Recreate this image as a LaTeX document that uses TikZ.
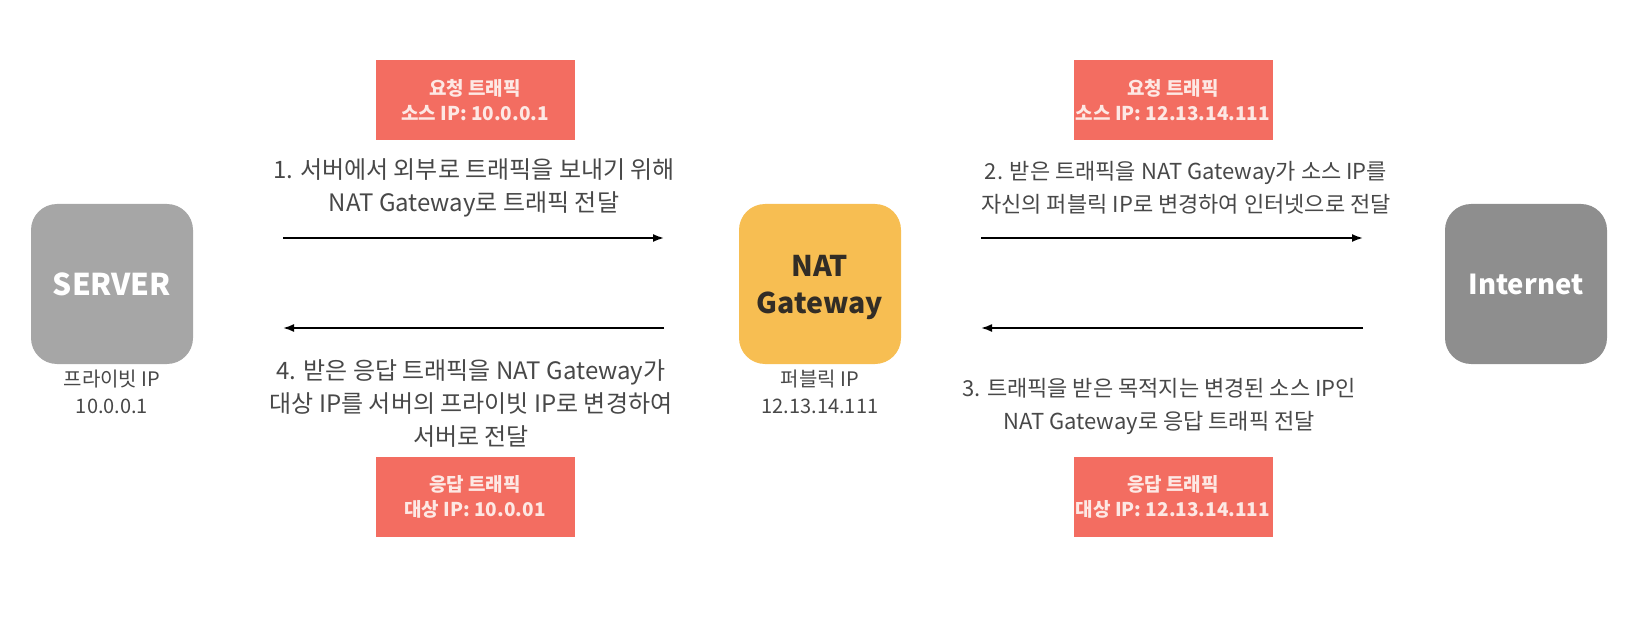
\documentclass[tikz,border=0pt]{standalone}
\usepackage{fontspec}
\setmainfont{Noto Sans CJK KR}
\usetikzlibrary{arrows.meta}
\definecolor{redbox}{RGB}{243,109,97}
\definecolor{redtext}{RGB}{253,232,228}
\definecolor{natyellow}{RGB}{247,190,82}
\definecolor{servergray}{RGB}{166,166,166}
\definecolor{netgray}{RGB}{142,142,142}
\definecolor{desc}{RGB}{72,72,72}
\definecolor{nattext}{RGB}{50,45,38}
\tikzset{
  bigbox/.style={draw=none, rounded corners=26pt, minimum width=162pt, minimum height=160pt, inner sep=0pt, align=center},
  tagbox/.style={draw=none, fill=redbox, minimum width=199pt, minimum height=80pt, inner sep=0pt, align=center,
    text=redtext, font=\fontsize{19}{25}\selectfont\bfseries},
  desctext/.style={align=center, text=desc, inner sep=0pt, font=\fontsize{24}{33}\selectfont},
  desctextsm/.style={align=center, text=desc, inner sep=0pt, font=\fontsize{22}{33}\selectfont},
  lbltext/.style={align=center, text=desc, inner sep=0pt, font=\fontsize{20}{27}\selectfont},
  arr/.style={line width=1.8pt, -{Latex[length=11pt,width=8pt]}}
}
\begin{document}
\begin{tikzpicture}[x=1pt,y=-1pt]
\useasboundingbox (0,0) rectangle (1644,631);
% main boxes
\node[bigbox, fill=servergray, minimum height=160pt] (server) at (112,284) {};
\node[text=white, font=\fontsize{30}{36}\selectfont\bfseries, inner sep=0pt] (servertxt) at (server.center) {SERVER};
\node[bigbox, fill=natyellow] (nat) at (820,284) {};
\node[text=nattext, font=\fontsize{28.5}{37}\selectfont\bfseries, align=center, inner sep=0pt] (nattxt) at (820,288) {NAT\\Gateway};
\node[bigbox, fill=netgray] (net) at (1526,284) {};
\node[text=white, font=\fontsize{27.5}{32}\selectfont\bfseries, inner sep=0pt] (nettxt) at (net.center) {Internet};
% labels under boxes
\node[lbltext] (serverlbl) at (112,392) {프라이빗 IP\\10.0.0.1};
\node[lbltext] (natlbl) at (820,392) {퍼블릭 IP\\12.13.14.111};
% tag boxes
\node[tagbox] (tag1) at (475,100) {요청 트래픽\\소스 IP: 10.0.0.1};
\node[tagbox] (tag2) at (1173,100) {요청 트래픽\\소스 IP: 12.13.14.111};
\node[tagbox] (tag4) at (475,497) {응답 트래픽\\대상 IP: 10.0.01};
\node[tagbox] (tag3) at (1173,497) {응답 트래픽\\대상 IP: 12.13.14.111};
% descriptions
\node[desctext] (d1) at (474,188) {1. 서버에서 외부로 트래픽을 보내기 위해\\NAT Gateway로 트래픽 전달};
\node[desctextsm] (d2) at (1186,188) {2. 받은 트래픽을 NAT Gateway가 소스 IP를\\자신의 퍼블릭 IP로 변경하여 인터넷으로 전달};
\node[desctextsm] (d3) at (1159,406) {3. 트래픽을 받은 목적지는 변경된 소스 IP인\\NAT Gateway로 응답 트래픽 전달};
\node[desctext] (d4) at (471,404) {4. 받은 응답 트래픽을 NAT Gateway가\\대상 IP를 서버의 프라이빗 IP로 변경하여\\서버로 전달};
% arrow end points
\coordinate (a1s) at (283,238);
\coordinate (a1e) at (664,238);
\coordinate (a2s) at (981,238);
\coordinate (a2e) at (1363,238);
\coordinate (a3s) at (1363,328);
\coordinate (a3e) at (981,328);
\coordinate (a4s) at (664,328);
\coordinate (a4e) at (283,328);
\draw[arr] (a1s) -- (a1e);
\draw[arr] (a2s) -- (a2e);
\draw[arr] (a3s) -- (a3e);
\draw[arr] (a4s) -- (a4e);
\end{tikzpicture}
\end{document}
